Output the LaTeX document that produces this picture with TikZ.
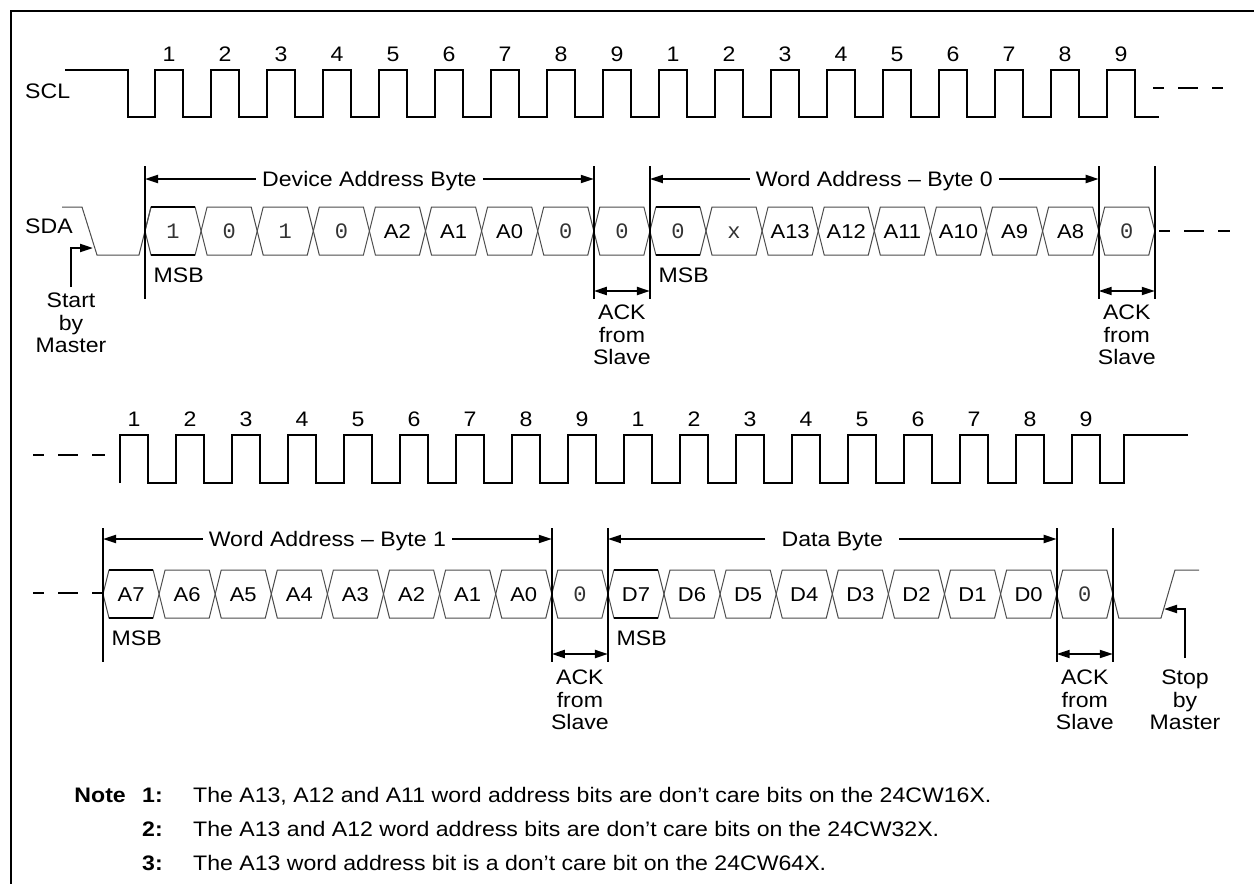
\documentclass[tikz,border=0pt]{standalone}
\usepackage{fontspec}
\setmainfont{Liberation Sans}[FakeStretch=1.1]
\newfontfamily\cellmono{Liberation Mono}
\usetikzlibrary{arrows.meta}
\newcommand\cm[1]{{\cellmono\fontsize{22}{22}\selectfont\color{black!80}#1}}
\newcommand\sdacell[4]{%
  \draw[dat] (#1,#2) -- ({#1+6},{#2-24}) -- ({#1+50.1},{#2-24}) -- ({#1+56.1},#2) -- ({#1+50.1},{#2+24}) -- ({#1+6},{#2+24}) -- cycle;
  \node[cl] (#4) at ({#1+28.05},#2) {#3};}
\newcommand\msbedges[2]{%
  \draw[line width=2pt] ({#1+6},{#2-24}) -- ({#1+50.1},{#2-24});
  \draw[line width=2pt] ({#1+6},{#2+24}) -- ({#1+50.1},{#2+24});}
\begin{document}
\begin{tikzpicture}[x=1pt,y=-1pt,
  sig/.style={line width=2pt, line join=miter},
  dat/.style={line width=1pt, black!70, line join=miter},
  mline/.style={line width=2pt},
  dsh/.style={line width=2pt, dash pattern=on 20pt off 14pt, dash phase=9pt},
  arr/.style={line width=2pt, -{Triangle[length=13pt,width=8pt]}},
  darr/.style={line width=2pt, {Triangle[length=13pt,width=8pt]}-{Triangle[length=13pt,width=8pt]}},
  lbl/.style={font=\fontsize{21}{22.5}\selectfont, inner sep=0pt, text height=15pt, text depth=0pt},
  alb/.style={lbl, inner xsep=6pt},
  cl/.style={font=\fontsize{20}{20}\selectfont, inner sep=0pt, text height=14.3pt, text depth=0pt},
  mlbl/.style={font=\fontsize{21}{22.5}\selectfont, inner sep=0pt, align=center, anchor=north},
  nt/.style={font=\fontsize{21}{22.5}\selectfont, inner sep=0pt}]
\useasboundingbox (0,0) rectangle (1254,884);
\fill[white] (0,0) rectangle (1254,884);
% frame
\draw[line width=2pt] (10.5,884) -- (10.5,10.5) -- (1254,10.5);

% ---------- top SCL ----------
\node[lbl, anchor=west] (scl) at (25,90.5) {SCL};
\draw[sig] (65,70) -- (128,70) -- (128,117)
  \foreach \i in {0,...,17} { -- ({155+56*\i},117) -- ({155+56*\i},70) -- ({183+56*\i},70) -- ({183+56*\i},117) }
  -- (1159,117);
\foreach \i in {0,...,17} {
  \pgfmathtruncatemacro\n{mod(\i,9)+1}
  \node[lbl] (tn\i) at ({169+56*\i},53.5) {\n};
}
\coordinate (tdsA) at (1153,88);
\coordinate (tdsB) at (1223,88);
\draw[dsh] (tdsA) -- (tdsB);

% ---------- top SDA ----------
\node[lbl, anchor=west] (sda) at (25,226) {SDA};
\draw[dat] (62,207) -- (82,207) -- (97,255) -- (139,255) -- (151,207);
\foreach \k/\t in {0/\cm{1},1/\cm{0},2/\cm{1},3/\cm{0},4/A2,5/A1,6/A0,7/\cm{0},8/\cm{0},
                   9/\cm{0},10/\cm{x},11/A13,12/A12,13/A11,14/A10,15/A9,16/A8,17/\cm{0}} {
  \pgfmathsetmacro\x{145+56.1*\k}
  \sdacell{\x}{231}{\t}{tc\k}
}
\msbedges{145}{231}
\msbedges{649.9}{231}
\coordinate (sdsA) at (1159,231);
\coordinate (sdsB) at (1230,231);
\draw[dsh] (sdsA) -- (sdsB);

% markers top
\foreach \k in {0,8,9,17,18} {
  \pgfmathsetmacro\x{145+56.1*\k}
  \coordinate (tt\k) at (\x,166);
  \coordinate (tb\k) at (\x,299);
  \draw[mline] (tt\k) -- (tb\k);
}
\node[alb] (dab) at (369.4,179) {Device Address Byte};
\draw[arr] (dab.west) -- (dab.west -| tt0);
\draw[arr] (dab.east) -- (dab.east -| tt8);
\node[alb] (wab0) at (874.3,179) {Word Address -- Byte 0};
\draw[arr] (wab0.west) -- (wab0.west -| tt9);
\draw[arr] (wab0.east) -- (wab0.east -| tt17);
\draw[darr] ([yshift=8pt]tb8) -- ([yshift=8pt]tb9);
\draw[darr] ([yshift=8pt]tb17) -- ([yshift=8pt]tb18);
\node[mlbl] (ack1) at (621.9,305) {ACK\\from\\Slave};
\node[mlbl] (ack2) at (1126.8,305) {ACK\\from\\Slave};
\node[lbl, anchor=west] (msb1) at (153.5,274.7) {MSB};
\node[lbl, anchor=west] (msb2) at (658.4,274.7) {MSB};
% start
\coordinate (sabot) at (71,287);
\coordinate (satip) at (93,248);
\draw[arr] (sabot) |- (satip);
\node[mlbl] (start) at (71,293) {Start\\by\\Master};

% ---------- bottom SCL ----------
\coordinate (bdsA) at (33,455);
\coordinate (bdsB) at (105,455);
\draw[dsh] (bdsA) -- (bdsB);
\draw[sig] (120,483) -- (120,435) -- (148,435) -- (148,483)
  \foreach \i in {1,...,17} { -- ({120+56*\i},483) -- ({120+56*\i},435) -- ({148+56*\i},435) -- ({148+56*\i},483) }
  -- (1124,483) -- (1124,435) -- (1188,435);
\foreach \i in {0,...,17} {
  \pgfmathtruncatemacro\n{mod(\i,9)+1}
  \node[lbl] (bn\i) at ({134+56*\i},419) {\n};
}

% ---------- bottom SDA ----------
\coordinate (bsdA) at (33,593);
\coordinate (bsdB) at (103,593);
\draw[dsh] (bsdA) -- (bsdB);
\foreach \k/\t in {0/A7,1/A6,2/A5,3/A4,4/A3,5/A2,6/A1,7/A0,8/\cm{0},
                   9/D7,10/D6,11/D5,12/D4,13/D3,14/D2,15/D1,16/D0,17/\cm{0}} {
  \pgfmathsetmacro\x{103+56.1*\k}
  \sdacell{\x}{594}{\t}{bc\k}
}
\msbedges{103}{594}
\msbedges{607.9}{594}
\draw[dat] (1112.8,594) -- (1118.8,618) -- (1161,618) -- (1175,570) -- (1199,570);

\foreach \k in {0,8,9,17,18} {
  \pgfmathsetmacro\x{103+56.1*\k}
  \coordinate (bt\k) at (\x,528);
  \coordinate (bb\k) at (\x,662);
  \draw[mline] (bt\k) -- (bb\k);
}
\node[alb] (wab1) at (327.4,539) {Word Address -- Byte 1};
\draw[arr] (wab1.west) -- (wab1.west -| bt0);
\draw[arr] (wab1.east) -- (wab1.east -| bt8);
\node[alb, inner xsep=16pt] (datb) at (832.3,539) {Data Byte};
\draw[arr] (datb.west) -- (datb.west -| bt9);
\draw[arr] (datb.east) -- (datb.east -| bt17);
\draw[darr] ([yshift=8pt]bb8) -- ([yshift=8pt]bb9);
\draw[darr] ([yshift=8pt]bb17) -- ([yshift=8pt]bb18);
\node[mlbl] (ack3) at (579.9,670) {ACK\\from\\Slave};
\node[mlbl] (ack4) at (1084.8,670) {ACK\\from\\Slave};
\node[lbl, anchor=west] (msb3) at (111.5,637.5) {MSB};
\node[lbl, anchor=west] (msb4) at (616.4,637.5) {MSB};
% stop
\coordinate (sobot) at (1185,658);
\coordinate (sotip) at (1164,609);
\draw[arr] (sobot) |- (sotip);
\node[mlbl] (stop) at (1185,670) {Stop\\by\\Master};

% ---------- notes ----------
\node[nt, anchor=base east] (note) at (126,802) {\bfseries Note};
\node[nt, anchor=base west] (n1) at (142,802) {\bfseries 1:};
\node[nt, anchor=base west] (t1) at (193,802) {The A13, A12 and A11 word address bits are don’t care bits on the 24CW16X.};
\node[nt, anchor=base west] (n2) at (142,836) {\bfseries 2:};
\node[nt, anchor=base west] (t2) at (193,836) {The A13 and A12 word address bits are don’t care bits on the 24CW32X.};
\node[nt, anchor=base west] (n3) at (142,870) {\bfseries 3:};
\node[nt, anchor=base west] (t3) at (193,870) {The A13 word address bit is a don’t care bit on the 24CW64X.};
\end{tikzpicture}
\end{document}
